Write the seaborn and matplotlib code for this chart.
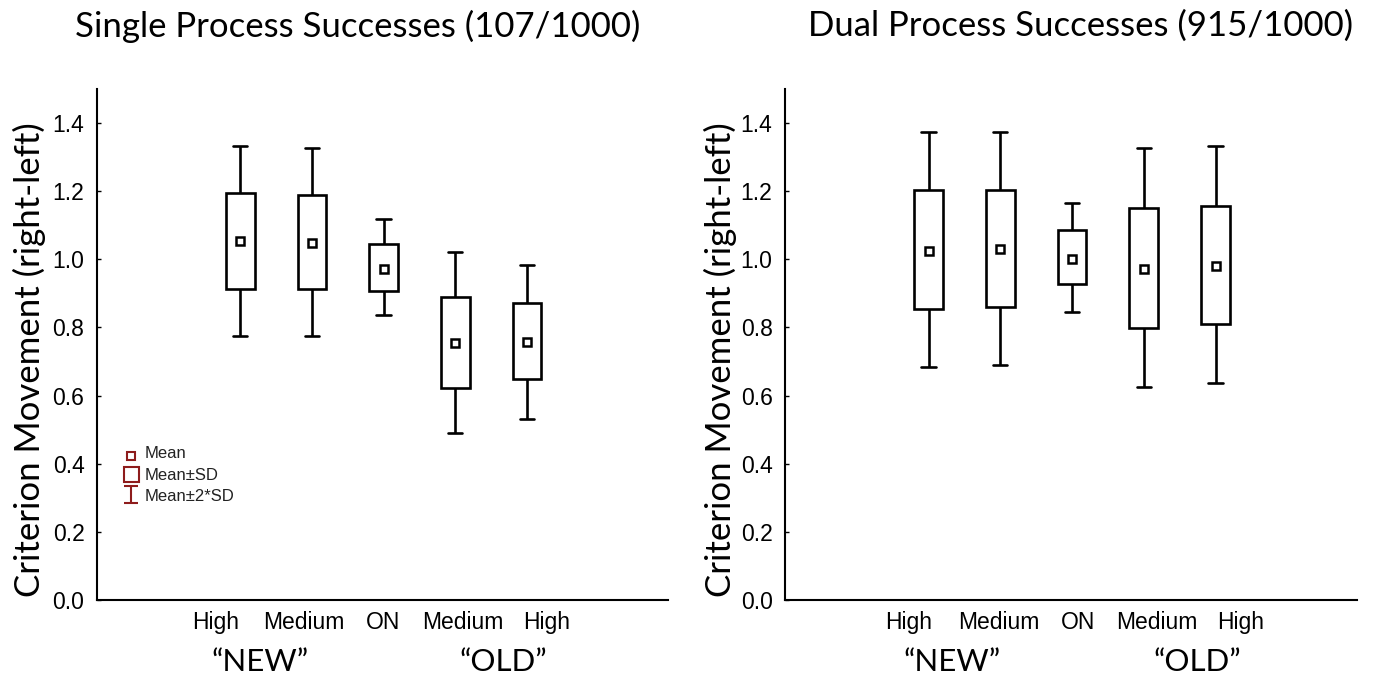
import numpy as np
import pandas as pd
import matplotlib
matplotlib.use("Agg")
import matplotlib.pyplot as plt
import matplotlib.transforms as mtransforms
import seaborn as sns

# ---------------- data ----------------
conditions = ["NEW High", "NEW Medium", "ON", "OLD Medium", "OLD High"]
tick_labels = ["High", "Medium", "ON", "Medium", "High"]
group_labels = ["\u201cNEW\u201d", "\u201cOLD\u201d"]
y_ticks = [0.0, 0.2, 0.4, 0.6, 0.8, 1.0, 1.2, 1.4]

titles = ["Single Process Successes (107/1000)", "Dual Process Successes (915/1000)"]
ylabel = "Criterion Movement (right-left)"
legend_labels = ["Mean", "Mean\u00b1SD", "Mean\u00b12*SD"]

single_mean = [1.054, 1.049, 0.973, 0.753, 0.758]
single_sd_lo = [0.913, 0.913, 0.908, 0.623, 0.649]
single_sd_hi = [1.194, 1.189, 1.046, 0.889, 0.871]
single_2sd_lo = [0.774, 0.774, 0.837, 0.489, 0.532]
single_2sd_hi = [1.333, 1.326, 1.117, 1.021, 0.984]

dual_mean = [1.025, 1.030, 1.002, 0.973, 0.981]
dual_sd_lo = [0.855, 0.860, 0.927, 0.798, 0.809]
dual_sd_hi = [1.203, 1.203, 1.085, 1.151, 1.156]
dual_2sd_lo = [0.684, 0.689, 0.846, 0.626, 0.637]
dual_2sd_hi = [1.375, 1.375, 1.165, 1.326, 1.332]

panels = [
    (single_mean, single_sd_lo, single_sd_hi, single_2sd_lo, single_2sd_hi),
    (dual_mean, dual_sd_lo, dual_sd_hi, dual_2sd_lo, dual_2sd_hi),
]

# ---------------- layout ----------------
sns.set_theme(style="ticks")
title_font = ["Lato", "DejaVu Sans"]
tick_font = ["Liberation Sans", "DejaVu Sans"]
plt.rcParams["font.family"] = tick_font
plt.rcParams.update({"text.color": "black", "xtick.color": "black",
                     "ytick.color": "black", "axes.labelcolor": "black",
                     "axes.edgecolor": "black"})

W, H = 1373, 681
fig = plt.figure(figsize=(W / 100, H / 100), dpi=100)
axes_px = [(97, 89, 668, 600), (785, 89, 1357, 600)]
tick_pos = [[-0.35, 0.88, 1.99, 3.10, 4.27], [-0.28, 0.98, 2.08, 3.18, 4.35]]
group_pos = [[0.28, 3.67], [0.33, 3.75]]
title_x = [358, 1081]
ylabel_x = [29, 720]
red = "#8e1c1c"

for k, (mean, sd_lo, sd_hi, lo2, hi2) in enumerate(panels):
    x0, y0, x1, y1 = axes_px[k]
    ax = fig.add_axes([x0 / W, 1 - y1 / H, (x1 - x0) / W, (y1 - y0) / H])

    # five-number table: whisker ends = mean±2SD, box edges = mean±SD, middle = mean
    rows = []
    for c, a, b, m, d, e in zip(conditions, lo2, sd_lo, mean, sd_hi, hi2):
        for v in (a, b, m, d, e):
            rows.append({"cond": c, "val": v})
    df = pd.DataFrame(rows)

    sns.boxplot(data=df, x="cond", y="val", order=conditions, ax=ax,
                width=0.4, whis=(0, 100), showfliers=False,
                color="white", linecolor="black", linewidth=1.9,
                medianprops=dict(linewidth=0))

    dfm = pd.DataFrame({"cond": conditions, "mean": mean})
    sns.pointplot(data=dfm, x="cond", y="mean", order=conditions, ax=ax,
                  linestyle="none", marker="s", markersize=5.5,
                  markeredgewidth=1.8, color="black", errorbar=None)
    for ln in ax.lines[-2:]:
        if ln.get_marker() == "s":
            ln.set_markerfacecolor("white")
            ln.set_markeredgecolor("black")
            ln.set_zorder(5)

    ax.set_xlim(-2.0, 5.97)
    ax.set_ylim(0, 1.5)
    ax.set_yticks(y_ticks)
    ax.set_yticklabels([f"{t:.1f}" for t in y_ticks], fontsize=16.5, family=tick_font,
                       color="black")
    ax.set_xticks(tick_pos[k])
    ax.set_xticklabels(tick_labels, fontsize=16.5, family=tick_font, color="black")
    ax.tick_params(axis="x", length=0, pad=8)
    ax.tick_params(axis="y", direction="in", length=3, width=1, pad=9, colors="black")
    ax.set_xlabel("")
    ax.set_ylabel("")
    sns.despine(ax=ax)
    for s in ("left", "bottom"):
        ax.spines[s].set_linewidth(1.5)
        ax.spines[s].set_color("black")

    # group labels
    trans = mtransforms.blended_transform_factory(ax.transData, fig.transFigure)
    for g, gx in zip(group_labels, group_pos[k]):
        ax.text(gx, 1 - 662 / H, g, transform=trans, ha="center", va="center",
                fontsize=22.5, family=title_font, color="black")

    fig.text(title_x[k] / W, 1 - 26 / H, titles[k], ha="center", va="center",
             fontsize=25, family=title_font, color="black")
    fig.text(ylabel_x[k] / W, 1 - 360 / H, ylabel, rotation=90, ha="center",
             va="center", fontsize=25, family=title_font, color="black")

    if k == 0:
        lx = 0.0595
        ax.plot([lx], [0.282], marker="s", ms=5.8, mfc="white", mec=red, mew=1.5,
                ls="none", transform=ax.transAxes, clip_on=False)
        ax.plot([lx], [0.2466], marker="s", ms=10.8, mfc="white", mec=red, mew=1.5,
                ls="none", transform=ax.transAxes, clip_on=False)
        ax.errorbar([lx], [0.2074], yerr=[0.0166], fmt="none", ecolor=red,
                    elinewidth=1.5, capsize=5, capthick=1.5, transform=ax.transAxes)
        for lab, ly in zip(legend_labels, [0.286, 0.243, 0.2016]):
            ax.text(0.084, ly, lab, transform=ax.transAxes, ha="left", va="center",
                    fontsize=12, family=tick_font, color="#222222")

fig.savefig("out.png", dpi=100)
